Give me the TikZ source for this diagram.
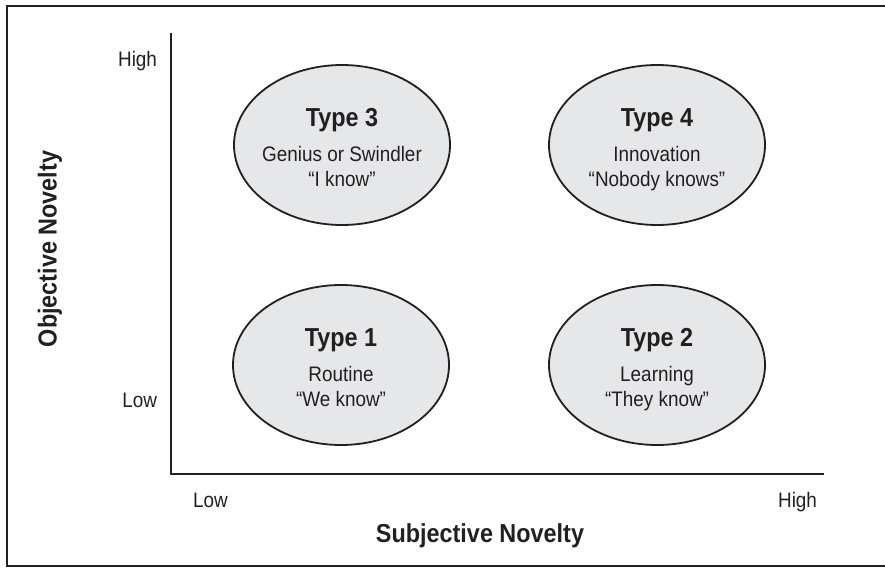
\documentclass[tikz,border=0pt]{standalone}
\usepackage{fontspec}
\setmainfont{Liberation Sans}[FakeStretch=0.9]
\usetikzlibrary{shapes.geometric}
\definecolor{ink}{HTML}{231F20}
\definecolor{bubble}{HTML}{E6E7E8}
\begin{document}
\begin{tikzpicture}[x=1pt, y=-1pt,
  every node/.style={text=ink, inner sep=0pt, outer sep=0pt},
  frameline/.style={draw=ink, line width=2pt},
  axisline/.style={draw=ink, line width=2.3pt},
  quad/.style={ellipse, draw=ink, fill=bubble, line width=1.8pt,
    minimum width=216pt, minimum height=160pt},
  title/.style={anchor=base, font=\fontsize{26}{30}\selectfont\bfseries},
  body/.style={anchor=base, font=\fontsize{21}{25}\selectfont},
  axistitle/.style={font=\fontsize{26}{30}\selectfont\bfseries},
  ticklabel/.style={font=\fontsize{21}{25}\selectfont}]
  \useasboundingbox (0,0) rectangle (885,567);

  % outer frame (open on the right)
  \coordinate (ftr) at (886,6);
  \coordinate (ftl) at (7,6);
  \coordinate (fbl) at (7,565.5);
  \coordinate (fbr) at (886,565.5);
  \draw[frameline] (ftr) -- (ftl) -- (fbl) -- (fbr);

  % axes
  \coordinate (ytop) at (171,33);
  \coordinate (origin) at (171,474);
  \coordinate (xend) at (824,474);
  \draw[axisline, line join=miter] (ytop) -- (origin) -- (xend);

  % axis labels
  \node[ticklabel, anchor=base east] (yhigh) at (157,67) {High};
  \node[ticklabel, anchor=base east] (ylow) at (157,407) {Low};
  \node[ticklabel, anchor=base west] (xlow) at (193,507) {Low};
  \node[ticklabel, anchor=base east] (xhigh) at (817,507) {High};
  \node[axistitle, anchor=base] (xtitle) at (480,542) {Subjective Novelty};
  \node[axistitle, rotate=90] (ytitle) at (50,249) {Objective Novelty};

  % quadrants
  \node[quad] (q3) at (342,145) {};
  \node[quad] (q4) at (657,145) {};
  \node[quad] (q1) at (341,365) {};
  \node[quad] (q2) at (657,365) {};

  \node[title] (q3a) at ([yshift=19pt]q3.center) {Type 3};
  \node[body]  (q3b) at ([yshift=-16pt]q3.center) {Genius or Swindler};
  \node[body]  (q3c) at ([yshift=-41pt]q3.center) {“I know”};

  \node[title] (q4a) at ([yshift=19pt]q4.center) {Type 4};
  \node[body]  (q4b) at ([yshift=-16pt]q4.center) {Innovation};
  \node[body]  (q4c) at ([yshift=-41pt]q4.center) {“Nobody knows”};

  \node[title] (q1a) at ([yshift=19pt]q1.center) {Type 1};
  \node[body]  (q1b) at ([yshift=-16pt]q1.center) {Routine};
  \node[body]  (q1c) at ([yshift=-41pt]q1.center) {“We know”};

  \node[title] (q2a) at ([yshift=19pt]q2.center) {Type 2};
  \node[body]  (q2b) at ([yshift=-16pt]q2.center) {Learning};
  \node[body]  (q2c) at ([yshift=-41pt]q2.center) {“They know”};
\end{tikzpicture}
\end{document}
